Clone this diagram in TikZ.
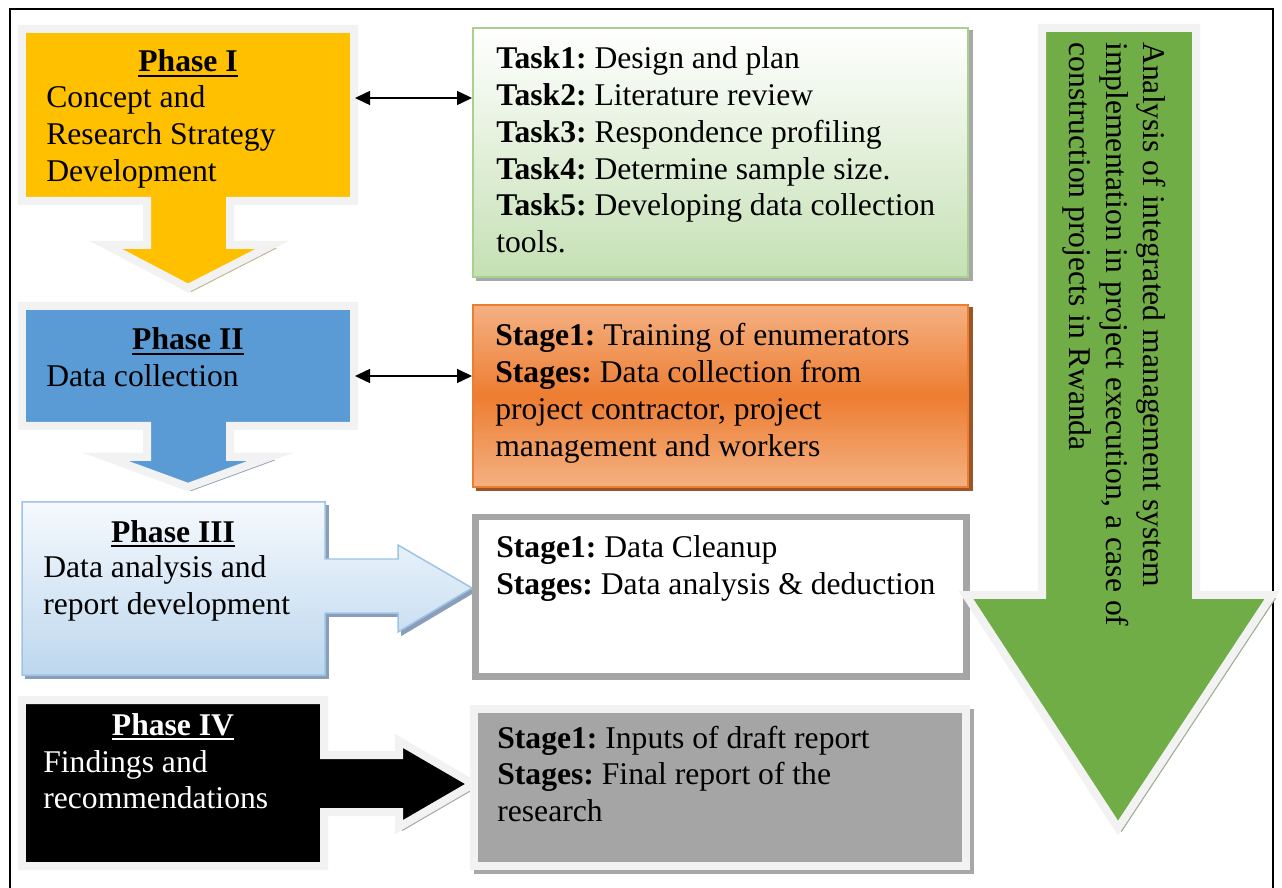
\documentclass[tikz,border=0pt]{standalone}
\usepackage{fontspec}
\setmainfont{Liberation Serif}
\usetikzlibrary{arrows.meta,fit}

\definecolor{phaseone}{HTML}{FFC000}
\definecolor{phasetwo}{HTML}{5B9BD5}
\definecolor{rim}{HTML}{F2F2F2}
\definecolor{tanshade}{HTML}{C2B58E}
\definecolor{blueshade}{HTML}{8A9EB8}
\definecolor{greyshade}{HTML}{A8A8A8}
\definecolor{brownshade}{HTML}{9A5528}
\definecolor{greenshade}{HTML}{9DAE92}
\definecolor{paleblue}{HTML}{F5F9FD}
\definecolor{lightblue}{HTML}{BDD7EE}
\definecolor{blueline}{HTML}{9DC3E6}
\definecolor{lightgreen}{HTML}{C5E0B4}
\definecolor{greenline}{HTML}{A9D18E}
\definecolor{darkorange}{HTML}{ED7D31}
\definecolor{lightorange}{HTML}{F4B183}
\definecolor{midgrey}{HTML}{A5A5A5}
\definecolor{leafgreen}{HTML}{70AD47}

\frenchspacing
\newcommand\phasehead[1]{\setbox0\hbox{\textbf{#1}}\rlap{\rule[-3pt]{\wd0}{1.5pt}}\box0}
\newcommand\lines[1]{\begin{tabular}[t]{@{}l@{}}#1\end{tabular}}

\tikzset{
  shadowed/.style={preaction={draw=#1, fill=#1, transform canvas={xshift=0.07cm, yshift=-0.07cm}}},
  rimmed/.style={draw=rim, line width=0.16cm, line join=miter},
  txt/.style={font=\fontsize{18}{20.9}\selectfont, inner sep=0pt},
  headtxt/.style={txt, anchor=base},
  bodytxt/.style={txt, anchor=base west},
  panel/.style={inner sep=0pt, line width=0.04cm},
  link/.style={{Triangle[length=0.3cm,width=0.28cm]}-{Triangle[length=0.3cm,width=0.28cm]}, line width=0.03cm}
}

\begin{document}
\begin{tikzpicture}[x=0.02cm, y=-0.02cm]
  \path[use as bounding box, fill=white] (0,0) rectangle (1282,888);
  \draw[line width=0.045cm] (10,9) rectangle (1273,900);

  % phases on the left
  \filldraw[rimmed, fill=phaseone, shadowed=tanshade]
    (22,29) -- (354,29) -- (354,201) -- (230,201) -- (230,245) -- (272,245)
    -- (188,288) -- (106,245) -- (147,245) -- (147,201) -- (22,201) -- cycle;
  \filldraw[rimmed, fill=phasetwo, shadowed=blueshade]
    (22,306) -- (354,306) -- (354,426) -- (230,426) -- (230,457) -- (270,457)
    -- (188,487) -- (106,457) -- (147,457) -- (147,426) -- (22,426) -- cycle;
  \draw[draw=blueline, line width=0.03cm, top color=paleblue, bottom color=lightblue, shadowed=blueshade]
    (22,502) -- (325,502) -- (325,559) -- (398,559) -- (398,545) -- (472,588)
    -- (398,632) -- (398,613) -- (325,613) -- (325,675) -- (22,675) -- cycle;
  \filldraw[rimmed, fill=black, shadowed=greyshade]
    (22,700) -- (324,700) -- (324,755) -- (399,755) -- (399,741) -- (473,784)
    -- (399,827) -- (399,812) -- (324,812) -- (324,866) -- (22,866) -- cycle;

  \node[headtxt] (ph1head) at (188,72) {\phasehead{Phase I}};
  \node[bodytxt] (ph1text) at (46,108) {\lines{Concept and\\Research Strategy\\Development}};
  \node[headtxt] (ph2head) at (188,350) {\phasehead{Phase II}};
  \node[bodytxt] (ph2text) at (46,387) {Data collection};
  \node[headtxt] (ph3head) at (173,542) {\phasehead{Phase III}};
  \node[bodytxt] (ph3text) at (43,578) {\lines{Data analysis and\\report development}};
  \node[headtxt, text=white] (ph4head) at (173,735) {\phasehead{Phase IV}};
  \node[bodytxt, text=white] (ph4text) at (43,772) {\lines{Findings and\\recommendations}};

  % boxes on the right
  \node[panel, fit={(473,28) (968,277)}, draw=greenline, top color=white, bottom color=lightgreen, shadowed=greyshade] (tasks) {};
  \node[panel, fit={(473,305) (968,487)}, draw=darkorange, top color=lightorange, bottom color=lightorange, middle color=darkorange, shadowed=brownshade] (collect) {};
  \node[panel, fit={(475,517) (966,676)}, draw=midgrey, line width=0.14cm, fill=white] (clean) {};
  \node[panel, fit={(474,709) (966,866)}, rimmed, fill=midgrey, shadowed=greyshade] (report) {};

  \node[bodytxt] (taskstext) at (496,69) {\lines{\textbf{Task1:} Design and plan\\\textbf{Task2:} Literature review\\\textbf{Task3:} Respondence profiling\\\textbf{Task4:} Determine sample size.\\\textbf{Task5:} Developing data collection\\tools.}};
  \node[bodytxt] (collecttext) at (495,346) {\lines{\textbf{Stage1:} Training of enumerators\\\textbf{Stages:} Data collection from\\project contractor, project\\management and workers}};
  \node[bodytxt] (cleantext) at (496,558) {\lines{\textbf{Stage1:} Data Cleanup\\\textbf{Stages:} Data analysis \& deduction}};
  \node[bodytxt] (reporttext) at (497,748) {\lines{\textbf{Stage1:} Inputs of draft report\\\textbf{Stages:} Final report of the\\research}};

  \coordinate (ph1out) at (355,98);
  \coordinate (ph2out) at (355,376);
  \draw[link] (ph1out) -- (ph1out -| tasks.west);
  \draw[link] (ph2out) -- (ph2out -| collect.west);

  % overall aim
  \filldraw[rimmed, fill=leafgreen, shadowed=greenshade]
    (1042,28) -- (1196,28) -- (1196,595) -- (1272,595) -- (1118,828)
    -- (966,595) -- (1042,595) -- cycle;
  \node[txt, rotate=-90, anchor=base west] (aim) at (1143,42)
    {\lines{Analysis of integrated management system\\implementation in project execution, a case of\\construction projects in Rwanda}};
\end{tikzpicture}
\end{document}
